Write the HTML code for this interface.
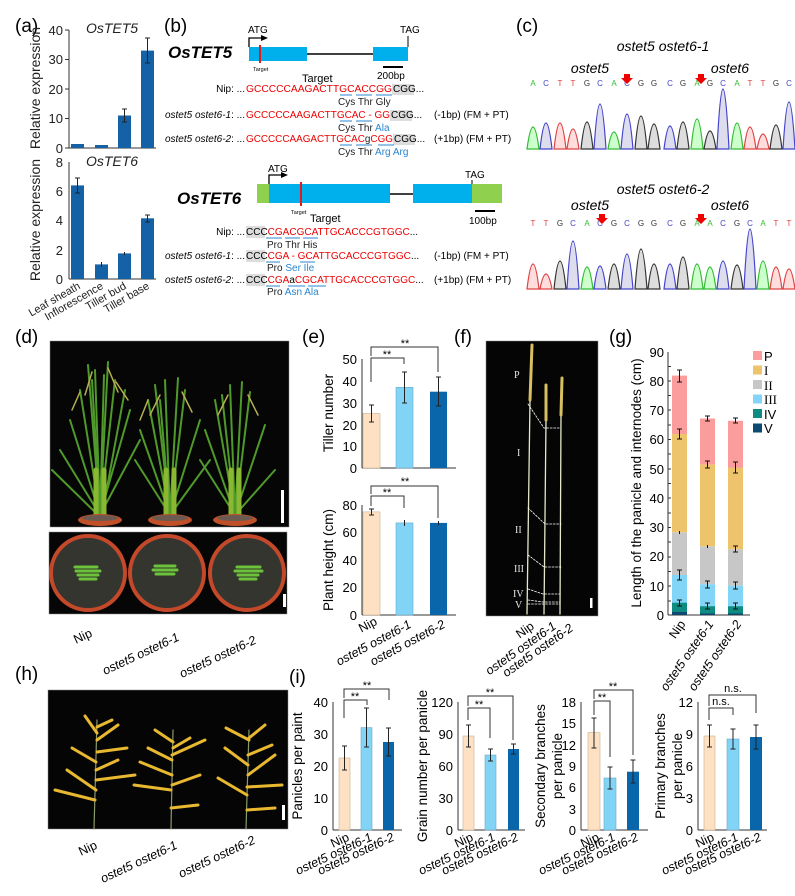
<!DOCTYPE html>
<html><head><meta charset="utf-8"><style>
html,body{margin:0;padding:0;background:#fff}
svg{display:block;font-family:"Liberation Sans",Arial,sans-serif}
.it{font-style:italic}
</style></head><body>
<svg width="795" height="896" viewBox="0 0 795 896" xmlns="http://www.w3.org/2000/svg">
<!-- ================= (a) ================= -->
<text x="15" y="32" font-size="19">(a)</text>
<g font-size="12" fill="#222">
<text x="112" y="33" text-anchor="middle" class="it" font-size="14">OsTET5</text>
<line x1="69" y1="30" x2="69" y2="148" stroke="#333"/>
<line x1="69" y1="148" x2="156" y2="148" stroke="#333"/>
<g stroke="#333"><line x1="65" y1="30" x2="69" y2="30"/><line x1="65" y1="59.5" x2="69" y2="59.5"/><line x1="65" y1="89" x2="69" y2="89"/><line x1="65" y1="118.5" x2="69" y2="118.5"/><line x1="65" y1="148" x2="69" y2="148"/></g>
<g text-anchor="end" font-size="13"><text x="63" y="35">40</text><text x="63" y="64">30</text><text x="63" y="94">20</text><text x="63" y="123">10</text><text x="63" y="153">0</text></g>
<g fill="#1461a6"><rect x="71" y="144" width="13" height="4"/><rect x="95" y="145" width="13" height="3"/><rect x="118" y="115.5" width="13" height="32.5"/><rect x="141" y="50.6" width="13" height="97.4"/></g>
<g stroke="#222"><line x1="124.5" y1="109" x2="124.5" y2="122"/><line x1="122" y1="109" x2="127" y2="109"/><line x1="122" y1="122" x2="127" y2="122"/><line x1="147.5" y1="38" x2="147.5" y2="63"/><line x1="145" y1="38" x2="150" y2="38"/><line x1="145" y1="63" x2="150" y2="63"/></g>
<text x="112" y="166" text-anchor="middle" class="it" font-size="14">OsTET6</text>
<line x1="69" y1="162" x2="69" y2="279" stroke="#333"/>
<line x1="69" y1="279" x2="156" y2="279" stroke="#333"/>
<g text-anchor="end" font-size="13"><text x="63" y="167">8</text><text x="63" y="196">6</text><text x="63" y="225">4</text><text x="63" y="255">2</text><text x="63" y="284">0</text></g>
<g fill="#1461a6"><rect x="71" y="185.4" width="13" height="93.6"/><rect x="95" y="264.4" width="13" height="14.6"/><rect x="118" y="253.4" width="13" height="25.6"/><rect x="141" y="218.3" width="13" height="60.7"/></g>
<g stroke="#222"><line x1="77.5" y1="178" x2="77.5" y2="193"/><line x1="75" y1="178" x2="80" y2="178"/><line x1="75" y1="193" x2="80" y2="193"/><line x1="101.5" y1="262" x2="101.5" y2="267"/><line x1="124.5" y1="252" x2="124.5" y2="255"/><line x1="147.5" y1="215" x2="147.5" y2="222"/><line x1="145" y1="215" x2="150" y2="215"/><line x1="145" y1="222" x2="150" y2="222"/></g>
<text transform="translate(40,220) rotate(-90)" text-anchor="middle" font-size="14">Relative expression</text>
<text transform="translate(40,88) rotate(-90)" text-anchor="middle" font-size="14">Relative expression</text>
<g font-size="11" text-anchor="end">
<text transform="translate(81,288) rotate(-30)">Leaf sheath</text>
<text transform="translate(104,288) rotate(-30)">Inflorescence</text>
<text transform="translate(127,288) rotate(-30)">Tiller bud</text>
<text transform="translate(150,288) rotate(-30)">Tiller base</text>
</g>
</g>
<!-- ================= (b) ================= -->
<text x="164" y="32" font-size="19">(b)</text>
<text x="168" y="58" font-size="17" font-weight="bold" class="it">OsTET5</text>
<text x="248" y="33" font-size="10">ATG</text>
<path d="M249 47 V38 H262" stroke="#000" stroke-width="1.3" fill="none"/><path d="M261 35 L268 38 L261 41Z"/>
<rect x="249" y="47" width="58" height="14" fill="#00b0ec"/>
<line x1="307" y1="54" x2="373" y2="54" stroke="#000" stroke-width="1.5"/>
<rect x="373" y="47" width="35" height="14" fill="#00b0ec"/>
<line x1="260" y1="45" x2="260" y2="63" stroke="#e41b1b" stroke-width="2"/>
<text x="253" y="71" font-size="5.5">Target</text>
<text x="400" y="33" font-size="10">TAG</text><line x1="408" y1="36" x2="408" y2="47" stroke="#000"/>
<line x1="383" y1="67" x2="403" y2="67" stroke="#000" stroke-width="2"/>
<text x="377" y="79" font-size="10">200bp</text>
<text x="302" y="82" font-size="11">Target</text>
<g font-size="10">
<text x="245" y="92" text-anchor="end">Nip: ...</text>
<rect x="392" y="84" width="22" height="11" fill="#ddd"/>
<text x="246" y="92" fill="#e00" textLength="146" lengthAdjust="spacingAndGlyphs">GCCCCCAAGACTTGCACCGG</text><text x="393" y="92">CGG...</text>
<text x="338" y="105" fill="#222">Cys  Thr  Gly</text>
<text x="245" y="118" text-anchor="end"><tspan class="it">ostet5 ostet6-1</tspan>: ...</text>
<rect x="390" y="110" width="22" height="11" fill="#ddd"/>
<text x="246" y="118" fill="#e00" textLength="144" lengthAdjust="spacingAndGlyphs">GCCCCCAAGACTTGCAC - GG</text><text x="391" y="118">CGG...</text>
<text x="434" y="118">(-1bp) (FM + PT)</text>
<text x="338" y="131" fill="#222">Cys   Thr  <tspan fill="#2a86d0">Ala</tspan></text>
<text x="245" y="142" text-anchor="end"><tspan class="it">ostet5 ostet6-2</tspan>: ...</text>
<rect x="393" y="134" width="22" height="11" fill="#ddd"/>
<text x="246" y="142" fill="#e00" textLength="147" lengthAdjust="spacingAndGlyphs">GCCCCCAAGACTTGCAC<tspan fill="#222">g</tspan>CGG</text><text x="394" y="142">CGG...</text>
<text x="434" y="142">(+1bp) (FM + PT)</text>
<text x="338" y="155" fill="#222">Cys  Thr  <tspan fill="#2a86d0">Arg  Arg</tspan></text>
</g>
<g stroke="#2a86d0" stroke-width="1"><line x1="340" y1="95" x2="352" y2="95"/><line x1="356" y1="95" x2="372" y2="95"/><line x1="376" y1="95" x2="392" y2="95"/><line x1="340" y1="121" x2="352" y2="121"/><line x1="356" y1="121" x2="372" y2="121"/><line x1="340" y1="145" x2="352" y2="145"/><line x1="356" y1="145" x2="372" y2="145"/><line x1="378" y1="145" x2="394" y2="145"/></g>
<text x="177" y="204" font-size="17" font-weight="bold" class="it">OsTET6</text>
<text x="268" y="172" font-size="10">ATG</text>
<path d="M269 184 V175 H282" stroke="#000" stroke-width="1.3" fill="none"/><path d="M281 172 L288 175 L281 178Z"/>
<rect x="257" y="184" width="12" height="19" fill="#8fd14f"/>
<rect x="269" y="184" width="121" height="19" fill="#00b0ec"/>
<line x1="390" y1="194" x2="413" y2="194" stroke="#000" stroke-width="1.5"/>
<rect x="413" y="184" width="59" height="19" fill="#00b0ec"/>
<rect x="472" y="184" width="30" height="19" fill="#8fd14f"/>
<line x1="301" y1="182" x2="301" y2="206" stroke="#e41b1b" stroke-width="2"/>
<text x="291" y="214" font-size="5.5">Target</text>
<text x="465" y="178" font-size="10">TAG</text><line x1="472" y1="180" x2="472" y2="184" stroke="#000"/>
<line x1="475" y1="211" x2="495" y2="211" stroke="#000" stroke-width="2"/>
<text x="469" y="224" font-size="10">100bp</text>
<text x="310" y="222" font-size="11">Target</text>
<g font-size="10">
<text x="245" y="235" text-anchor="end">Nip: ...</text>
<rect x="246" y="226" width="19" height="12" fill="#ddd"/>
<text x="246" y="235">CCC<tspan fill="#e00">CGACGCATTGCACCCGTGGC</tspan>...</text>
<text x="267" y="248" fill="#222">Pro  Thr  His</text>
<text x="245" y="259" text-anchor="end"><tspan class="it">ostet5 ostet6-1</tspan>: ...</text>
<rect x="246" y="250" width="19" height="12" fill="#ddd"/>
<text x="246" y="259">CCC<tspan fill="#e00">CGA - GCATTGCACCCGTGGC</tspan>...</text>
<text x="434" y="259">(-1bp) (FM + PT)</text>
<text x="267" y="271" fill="#222">Pro  <tspan fill="#2a86d0">Ser     Ile</tspan></text>
<text x="245" y="283" text-anchor="end"><tspan class="it">ostet5 ostet6-2</tspan>: ...</text>
<rect x="246" y="274" width="19" height="12" fill="#ddd"/>
<text x="246" y="283">CCC<tspan fill="#e00">CGA</tspan>a<tspan fill="#e00">CGCATTGCACCCGTGGC</tspan>...</text>
<text x="434" y="283">(+1bp) (FM + PT)</text>
<text x="267" y="295" fill="#222">Pro  <tspan fill="#2a86d0">Asn  Ala</tspan></text>
</g>
<g stroke="#2a86d0"><line x1="266" y1="238" x2="282" y2="238"/><line x1="285" y1="238" x2="300" y2="238"/><line x1="303" y1="238" x2="318" y2="238"/><line x1="266" y1="262" x2="280" y2="262"/><line x1="300" y1="262" x2="315" y2="262"/><line x1="266" y1="286" x2="280" y2="286"/><line x1="288" y1="286" x2="305" y2="286"/><line x1="308" y1="286" x2="326" y2="286"/></g>
<!-- ================= (c) ================= -->
<text x="516" y="32" font-size="19">(c)</text>
<g class="it" font-size="14" text-anchor="middle">
<text x="663" y="51">ostet5 ostet6-1</text><text x="590" y="73">ostet5</text><text x="730" y="73">ostet6</text>
<text x="663" y="194">ostet5 ostet6-2</text><text x="590" y="210">ostet5</text><text x="730" y="210">ostet6</text>
</g>
<g font-size="8" text-anchor="middle">
<text x="533" y="86" fill="#3b3">A</text><text x="546" y="86" fill="#44c">C</text><text x="560" y="86" fill="#d44">T</text><text x="573" y="86" fill="#d44">T</text><text x="587" y="86" fill="#333">G</text><text x="600" y="86" fill="#44c">C</text><text x="614" y="86" fill="#3b3">A</text><text x="627" y="86" fill="#44c">C</text><text x="641" y="86" fill="#333">G</text><text x="654" y="86" fill="#333">G</text>
<text x="670" y="86" fill="#44c">C</text><text x="683" y="86" fill="#333">G</text><text x="697" y="86" fill="#3b3">A</text><text x="710" y="86" fill="#333">G</text><text x="723" y="86" fill="#44c">C</text><text x="737" y="86" fill="#3b3">A</text><text x="750" y="86" fill="#d44">T</text><text x="763" y="86" fill="#d44">T</text><text x="776" y="86" fill="#333">G</text><text x="789" y="86" fill="#44c">C</text>
<text x="533" y="226" fill="#d44">T</text><text x="546" y="226" fill="#d44">T</text><text x="560" y="226" fill="#333">G</text><text x="573" y="226" fill="#44c">C</text><text x="587" y="226" fill="#3b3">A</text><text x="600" y="226" fill="#44c">C</text><text x="614" y="226" fill="#333">G</text><text x="627" y="226" fill="#44c">C</text><text x="641" y="226" fill="#333">G</text><text x="654" y="226" fill="#333">G</text>
<text x="670" y="226" fill="#44c">C</text><text x="683" y="226" fill="#333">G</text><text x="697" y="226" fill="#3b3">A</text><text x="710" y="226" fill="#3b3">A</text><text x="723" y="226" fill="#44c">C</text><text x="737" y="226" fill="#333">G</text><text x="750" y="226" fill="#44c">C</text><text x="763" y="226" fill="#3b3">A</text><text x="776" y="226" fill="#d44">T</text><text x="789" y="226" fill="#d44">T</text>
</g>
<g stroke-width="1.2">
<path d="M527 149 Q533 105 539 149Z" fill="#cfc" stroke="#3b3"/><path d="M540 149 Q546 97 552 149Z" fill="#dde" stroke="#44c"/><path d="M554 149 Q560 97 566 149Z" fill="#fdd" stroke="#d44"/><path d="M567 149 Q573 109 579 149Z" fill="#fdd" stroke="#d44"/><path d="M581 149 Q587 95 593 149Z" fill="#ddd" stroke="#333"/><path d="M594 149 Q600 59 606 149Z" fill="#dde" stroke="#44c"/><path d="M608 149 Q614 115 620 149Z" fill="#cfc" stroke="#3b3"/><path d="M621 149 Q627 79 633 149Z" fill="#dde" stroke="#44c"/><path d="M635 149 Q641 83 647 149Z" fill="#ddd" stroke="#333"/><path d="M648 149 Q654 99 660 149Z" fill="#ddd" stroke="#333"/>
<path d="M664 149 Q670 103 676 149Z" fill="#dde" stroke="#44c"/><path d="M677 149 Q683 95 689 149Z" fill="#ddd" stroke="#333"/><path d="M691 149 Q697 89 703 149Z" fill="#cfc" stroke="#3b3"/><path d="M704 149 Q710 113 716 149Z" fill="#ddd" stroke="#333"/><path d="M717 149 Q723 29 729 149Z" fill="#dde" stroke="#44c"/><path d="M731 149 Q737 97 743 149Z" fill="#cfc" stroke="#3b3"/><path d="M744 149 Q750 105 756 149Z" fill="#fdd" stroke="#d44"/><path d="M757 149 Q763 119 769 149Z" fill="#fdd" stroke="#d44"/><path d="M770 149 Q776 101 782 149Z" fill="#ddd" stroke="#333"/><path d="M783 149 Q789 55 795 149Z" fill="#dde" stroke="#44c"/>
<path d="M527 289 Q533 239 539 289Z" fill="#fdd" stroke="#d44"/><path d="M540 289 Q546 259 552 289Z" fill="#fdd" stroke="#d44"/><path d="M554 289 Q560 233 566 289Z" fill="#ddd" stroke="#333"/><path d="M567 289 Q573 193 579 289Z" fill="#dde" stroke="#44c"/><path d="M581 289 Q587 245 593 289Z" fill="#cfc" stroke="#3b3"/><path d="M594 289 Q600 243 606 289Z" fill="#dde" stroke="#44c"/><path d="M608 289 Q614 239 620 289Z" fill="#ddd" stroke="#333"/><path d="M621 289 Q627 219 633 289Z" fill="#dde" stroke="#44c"/><path d="M635 289 Q641 209 647 289Z" fill="#ddd" stroke="#333"/><path d="M648 289 Q654 239 660 289Z" fill="#ddd" stroke="#333"/>
<path d="M664 289 Q670 239 676 289Z" fill="#dde" stroke="#44c"/><path d="M677 289 Q683 225 689 289Z" fill="#ddd" stroke="#333"/><path d="M691 289 Q697 239 703 289Z" fill="#cfc" stroke="#3b3"/><path d="M704 289 Q710 245 716 289Z" fill="#cfc" stroke="#3b3"/><path d="M717 289 Q723 233 729 289Z" fill="#dde" stroke="#44c"/><path d="M731 289 Q737 241 743 289Z" fill="#ddd" stroke="#333"/><path d="M744 289 Q750 169 756 289Z" fill="#dde" stroke="#44c"/><path d="M757 289 Q763 233 769 289Z" fill="#cfc" stroke="#3b3"/><path d="M770 289 Q776 245 782 289Z" fill="#fdd" stroke="#d44"/><path d="M783 289 Q789 249 795 289Z" fill="#fdd" stroke="#d44"/>
</g>
<g fill="#e00"><path d="M624 74 h6 v4 h3 l-6 6 l-6 -6 h3z"/><path d="M698 74 h6 v4 h3 l-6 6 l-6 -6 h3z"/><path d="M599 214 h6 v4 h3 l-6 6 l-6 -6 h3z"/><path d="M698 214 h6 v4 h3 l-6 6 l-6 -6 h3z"/></g>
<!-- ================= (d) ================= -->
<text x="15" y="343" font-size="19">(d)</text>
<rect x="50" y="341" width="239" height="186" fill="#060606" stroke="#888" stroke-width="0.5"/>
<g stroke-width="2" fill="none" stroke-linecap="round">
<g stroke="#4f9a2a"><path d="M100 515 L95 370"/><path d="M100 515 L80 390"/><path d="M100 515 L115 380"/><path d="M100 515 L70 420"/><path d="M100 515 L130 410"/><path d="M100 515 L60 450"/><path d="M100 515 L140 440"/><path d="M100 515 L88 365"/><path d="M100 515 L108 362"/><path d="M98 515 L52 470"/><path d="M102 515 L125 390"/><path d="M100 515 L92 380"/><path d="M100 515 L104 375"/></g>
<g stroke="#b8b050" stroke-width="1.5"><path d="M92 372 L85 395"/><path d="M108 368 L118 392"/><path d="M80 392 L72 410"/><path d="M116 382 L128 400"/></g>
<g stroke="#4f9a2a"><path d="M170 515 L165 380"/><path d="M170 515 L148 400"/><path d="M170 515 L185 390"/><path d="M170 515 L140 430"/><path d="M170 515 L200 420"/><path d="M170 515 L135 460"/><path d="M170 515 L210 460"/><path d="M170 515 L178 378"/><path d="M170 515 L155 385"/><path d="M170 515 L160 400"/></g>
<g stroke="#b8b050" stroke-width="1.5"><path d="M160 395 L150 415"/><path d="M182 392 L192 412"/><path d="M148 400 L140 420"/></g>
<g stroke="#4f9a2a"><path d="M235 515 L230 385"/><path d="M235 515 L215 400"/><path d="M235 515 L250 392"/><path d="M235 515 L205 430"/><path d="M235 515 L265 425"/><path d="M235 515 L275 470"/><path d="M235 515 L200 460"/><path d="M235 515 L242 382"/><path d="M235 515 L222 395"/></g>
<g stroke="#b8b050" stroke-width="1.5"><path d="M228 395 L218 415"/><path d="M248 395 L258 415"/></g>
<g stroke="#8ab830" stroke-width="5"><path d="M96 515 L96 470"/><path d="M104 515 L104 470"/><path d="M166 515 L166 470"/><path d="M174 515 L174 470"/><path d="M231 515 L231 470"/><path d="M239 515 L239 470"/></g>
</g>
<g fill="#c0502a"><ellipse cx="100" cy="520" rx="22" ry="6"/><ellipse cx="170" cy="520" rx="22" ry="6"/><ellipse cx="235" cy="520" rx="22" ry="6"/></g>
<g fill="#6a5a50"><ellipse cx="100" cy="518" rx="18" ry="3"/><ellipse cx="170" cy="518" rx="18" ry="3"/><ellipse cx="235" cy="518" rx="18" ry="3"/></g>
<rect x="281" y="490" width="3" height="33" fill="#fff"/>
<rect x="49" y="532" width="238" height="82" fill="#060606" stroke="#888" stroke-width="0.5"/>
<g stroke="#c4492a" stroke-width="4" fill="#35352f"><circle cx="88" cy="573" r="37"/><circle cx="167" cy="573" r="37"/><circle cx="247" cy="573" r="37"/></g>
<g stroke="#6cc23a" stroke-width="3" stroke-linecap="round"><path d="M75 567 H97 M76 571 H100 M78 575 H98 M80 579 H96"/><path d="M155 566 L175 566 M153 570 L177 570 M156 574 L174 574"/><path d="M237 567 H260 M235 571 H262 M238 575 H258 M240 579 H256"/></g>
<rect x="283" y="594" width="3" height="13" fill="#fff"/>
<g font-size="12.5" class="it" text-anchor="end">
<text transform="translate(93,636) rotate(-25)" font-style="normal">Nip</text>
<text transform="translate(180,640) rotate(-25)">ostet5 ostet6-1</text>
<text transform="translate(257,643) rotate(-25)">ostet5 ostet6-2</text>
</g>
<!-- ================= (e) ================= -->
<text x="302" y="343" font-size="19">(e)</text>
<g font-size="13">
<line x1="362" y1="359" x2="362" y2="468" stroke="#333"/><line x1="362" y1="468" x2="456" y2="468" stroke="#333"/>
<g text-anchor="end"><text x="357" y="364">50</text><text x="357" y="386">40</text><text x="357" y="408">30</text><text x="357" y="430">20</text><text x="357" y="451">10</text><text x="357" y="473">0</text></g>
<rect x="363" y="413.5" width="17" height="54.5" fill="#fde1c2" stroke="#c8b090" stroke-width="0.6"/>
<rect x="396" y="387.3" width="17" height="80.7" fill="#82d4f7" stroke="#6aa8c8" stroke-width="0.6"/>
<rect x="430" y="391.7" width="17" height="76.3" fill="#0a66aa"/>
<g stroke="#222"><path d="M371.5 405 V422 M369 405 H374 M369 422 H374"/><path d="M404.5 372 V403 M402 372 H407 M402 403 H407"/><path d="M438.5 377 V406 M436 377 H441 M436 406 H441"/></g>
<path d="M371 382 V358 H404 V364" stroke="#333" fill="none"/><path d="M371 356 V347 H438 V372" stroke="#333" fill="none"/>
<text x="387" y="358" font-size="11" text-anchor="middle">**</text><text x="405" y="347" font-size="11" text-anchor="middle">**</text>
<text transform="translate(333,413) rotate(-90)" text-anchor="middle" font-size="13.5">Tiller number</text>
<line x1="362" y1="505" x2="362" y2="615" stroke="#333"/><line x1="362" y1="615" x2="456" y2="615" stroke="#333"/>
<g text-anchor="end"><text x="357" y="510">80</text><text x="357" y="537">60</text><text x="357" y="565">40</text><text x="357" y="592">20</text><text x="357" y="620">0</text></g>
<rect x="363" y="511.9" width="17" height="103.1" fill="#fde1c2" stroke="#c8b090" stroke-width="0.6"/>
<rect x="396" y="522.9" width="17" height="92.1" fill="#82d4f7" stroke="#6aa8c8" stroke-width="0.6"/>
<rect x="430" y="522.9" width="17" height="92.1" fill="#0a66aa"/>
<g stroke="#222"><path d="M371.5 509 V515 M369 509 H374 M369 515 H374"/><path d="M404.5 520 V526"/><path d="M438.5 521 V525"/></g>
<path d="M371 506 V496 H404 V508" stroke="#333" fill="none"/><path d="M371 494 V486 H438 V518" stroke="#333" fill="none"/>
<text x="387" y="496" font-size="11" text-anchor="middle">**</text><text x="405" y="485" font-size="11" text-anchor="middle">**</text>
<text transform="translate(333,560) rotate(-90)" text-anchor="middle" font-size="13.5">Plant height (cm)</text>
</g>
<g font-size="12.5" class="it" text-anchor="end">
<text transform="translate(378,624) rotate(-28)" font-style="normal">Nip</text>
<text transform="translate(412,627) rotate(-28)">ostet5 ostet6-1</text>
<text transform="translate(446,627) rotate(-28)">ostet5 ostet6-2</text>
</g>
<!-- ================= (f) ================= -->
<text x="454" y="343" font-size="19">(f)</text>
<rect x="486" y="341" width="112" height="275" fill="#050505" stroke="#888" stroke-width="0.5"/>
<g fill="none" stroke-linecap="round">
<g stroke="#e8e8c8" stroke-width="1.3"><path d="M527 614 L530 400"/><path d="M544 614 L546 420"/><path d="M560 614 L561 415"/></g>
<g stroke="#d8c060" stroke-width="3"><path d="M530 400 L532 345"/><path d="M546 420 L546 385"/><path d="M561 415 L562 378"/></g>
<g stroke="#fff" stroke-width="0.8" stroke-dasharray="2 1.5"><path d="M528 404 L544 428 H560"/><path d="M528 508 L545 524 H561"/><path d="M528 555 L544 567 H561"/><path d="M528 589 L543 594 H560"/><path d="M528 600 L543 602 H560"/><path d="M528 604 H560"/></g>
</g>
<g fill="#e6e6e6" font-family="Liberation Serif,serif" font-size="10"><text x="514" y="378">P</text><text x="517" y="456">I</text><text x="515" y="533">II</text><text x="514" y="572">III</text><text x="513" y="597">IV</text><text x="515" y="608">V</text></g>
<rect x="590" y="598" width="2.5" height="10" fill="#fff"/>
<g font-size="12.5" class="it" text-anchor="end">
<text transform="translate(535,628) rotate(-35)" font-style="normal">Nip</text>
<text transform="translate(557,628) rotate(-35)">ostet5 ostet6-1</text>
<text transform="translate(574,630) rotate(-35)">ostet5 ostet6-2</text>
</g>
<!-- ================= (g) ================= -->
<text x="609" y="343" font-size="19">(g)</text>
<g font-size="13">
<line x1="668" y1="352" x2="668" y2="615" stroke="#333"/><line x1="668" y1="615" x2="750" y2="615" stroke="#333"/>
<g text-anchor="end"><text x="664" y="357">90</text><text x="664" y="386">80</text><text x="664" y="415">70</text><text x="664" y="444">60</text><text x="664" y="474">50</text><text x="664" y="503">40</text><text x="664" y="532">30</text><text x="664" y="561">20</text><text x="664" y="591">10</text><text x="664" y="620">0</text></g>
<g stroke="#333"><path d="M668 366.5 h3 M668 381 h3 M668 395.5 h3 M668 410 h3 M668 425 h3 M668 439.5 h3 M668 454 h3 M668 469 h3 M668 483.5 h3 M668 498 h3 M668 513 h3 M668 527.5 h3 M668 542 h3 M668 557 h3 M668 571.5 h3 M668 586 h3 M668 601 h3"/></g>
<rect x="672" y="375.6" width="15" height="58.4" fill="#fb9d9d"/><rect x="672" y="434" width="15" height="98.3" fill="#edc46c"/><rect x="672" y="532.4" width="15" height="42.9" fill="#c7c7c7"/><rect x="672" y="575" width="15" height="28.1" fill="#83d5f7"/><rect x="672" y="602.7" width="15" height="9.4" fill="#0f8b82"/><rect x="672" y="612" width="15" height="3" fill="#0c4a72"/>
<rect x="700" y="418.5" width="15" height="46.1" fill="#fb9d9d"/><rect x="700" y="464.6" width="15" height="81.7" fill="#edc46c"/><rect x="700" y="546.4" width="15" height="37.9" fill="#c7c7c7"/><rect x="700" y="584.3" width="15" height="21.9" fill="#83d5f7"/><rect x="700" y="606.2" width="15" height="7.3" fill="#0f8b82"/><rect x="700" y="613.5" width="15" height="1.5" fill="#0c4a72"/>
<rect x="728" y="420.8" width="15" height="46.8" fill="#fb9d9d"/><rect x="728" y="467.5" width="15" height="81.8" fill="#edc46c"/><rect x="728" y="549.3" width="15" height="36.5" fill="#c7c7c7"/><rect x="728" y="585.8" width="15" height="20.4" fill="#83d5f7"/><rect x="728" y="606.2" width="15" height="7.3" fill="#0f8b82"/><rect x="728" y="613.5" width="15" height="1.5" fill="#0c4a72"/>
<g stroke="#111" stroke-width="1"><path d="M679.5 370 v12 M677 370 h5 M677 382 h5 M679.5 429 v10 M677 429 h5 M677 439 h5 M679.5 531 v3 M679.5 570 v10 M677 570 h5 M677 580 h5 M679.5 600 v6 M677 600 h5 M677 606 h5"/><path d="M707.5 416 v5 M705 416 h5 M705 421 h5 M707.5 461 v7 M705 461 h5 M705 468 h5 M707.5 545 v3 M707.5 581 v7 M705 581 h5 M705 588 h5 M707.5 603 v6 M705 603 h5 M705 609 h5"/><path d="M735.5 418 v5 M733 418 h5 M733 423 h5 M735.5 462 v11 M733 462 h5 M733 473 h5 M735.5 546 v6 M733 546 h5 M733 552 h5 M735.5 582 v7 M733 582 h5 M733 589 h5 M735.5 603 v6 M733 603 h5 M733 609 h5"/></g>
<text transform="translate(641,483) rotate(-90)" text-anchor="middle" font-size="13.5">Length of the panicle and internodes (cm)</text>
<g font-size="13"><rect x="753" y="351" width="9" height="9" fill="#fb9d9d"/><text x="764" y="361">P</text>
<rect x="753" y="365.5" width="9" height="9" fill="#edc46c"/><text x="764" y="375" font-family="Liberation Serif,serif">I</text>
<rect x="753" y="380" width="9" height="9" fill="#c7c7c7"/><text x="764" y="390" font-family="Liberation Serif,serif">II</text>
<rect x="753" y="394.5" width="9" height="9" fill="#83d5f7"/><text x="764" y="404" font-family="Liberation Serif,serif">III</text>
<rect x="753" y="409" width="9" height="9" fill="#0f8b82"/><text x="764" y="419">IV</text>
<rect x="753" y="423.5" width="9" height="9" fill="#0c4a72"/><text x="764" y="433">V</text></g>
</g>
<g font-size="12.5" class="it" text-anchor="end">
<text transform="translate(686,624) rotate(-55)" font-style="normal">Nip</text>
<text transform="translate(714,624) rotate(-55)">ostet5 ostet6-1</text>
<text transform="translate(742,624) rotate(-55)">ostet5 ostet6-2</text>
</g>
<!-- ================= (h) ================= -->
<text x="15" y="680" font-size="19">(h)</text>
<rect x="48" y="690" width="240" height="139" fill="#050505" stroke="#888" stroke-width="0.5"/>
<g fill="none" stroke-linecap="round">
<g stroke="#8a9a6a" stroke-width="1.2"><path d="M94 829 L97 720"/><path d="M171 829 L173 730"/><path d="M246 829 L249 730"/></g>
<g stroke="#e8b830" stroke-width="3"><path d="M95 800 L55 790"/><path d="M96 790 L67 770"/><path d="M96 780 L135 775"/><path d="M96 762 L72 748"/><path d="M97 752 L127 748"/><path d="M97 740 L118 725"/><path d="M97 733 L85 716"/><path d="M97 727 L112 720"/><path d="M96 770 L118 760"/>
<path d="M171 790 L134 785"/><path d="M171 808 L198 805"/><path d="M172 775 L140 762"/><path d="M172 785 L200 775"/><path d="M172 760 L148 748"/><path d="M172 755 L205 740"/><path d="M173 742 L155 730"/><path d="M173 748 L190 738"/>
<path d="M247 810 L275 808"/><path d="M247 795 L218 778"/><path d="M247 787 L282 785"/><path d="M248 775 L275 755"/><path d="M248 765 L225 748"/><path d="M248 755 L272 745"/><path d="M249 740 L226 728"/><path d="M249 738 L265 725"/></g>
</g>
<rect x="282" y="805" width="3" height="15" fill="#fff"/>
<g font-size="12.5" class="it" text-anchor="end">
<text transform="translate(98,848) rotate(-25)" font-style="normal">Nip</text>
<text transform="translate(178,848) rotate(-25)">ostet5 ostet6-1</text>
<text transform="translate(256,843) rotate(-25)">ostet5 ostet6-2</text>
</g>
<!-- ================= (i) ================= -->
<text x="289" y="683" font-size="19">(i)</text>
<g font-size="13">
<line x1="333" y1="702" x2="333" y2="830" stroke="#333"/><line x1="333" y1="830" x2="402" y2="830" stroke="#333"/>
<g text-anchor="end"><text x="328" y="707">40</text><text x="328" y="739">30</text><text x="328" y="771">20</text><text x="328" y="803">10</text><text x="328" y="835">0</text></g>
<rect x="339" y="758" width="11" height="72" fill="#fde1c2" stroke="#c8b090" stroke-width="0.6"/>
<rect x="361" y="727.6" width="11" height="102.4" fill="#82d4f7" stroke="#6aa8c8" stroke-width="0.6"/>
<rect x="383" y="742" width="11" height="88" fill="#0a66aa"/>
<g stroke="#222"><path d="M344.5 746 V770 M342 746 H347 M342 770 H347 M366.5 708 V747 M364 708 H369 M364 747 H369 M388.5 728 V756 M386 728 H391 M386 756 H391"/></g>
<path d="M344 718 V700 H367 V705" stroke="#333" fill="none"/><path d="M344 698 V689 H389 V700" stroke="#333" fill="none"/>
<text x="355" y="700" font-size="11" text-anchor="middle">**</text><text x="367" y="689" font-size="11" text-anchor="middle">**</text>
<text transform="translate(302,766) rotate(-90)" text-anchor="middle" font-size="13.5">Panicles per paint</text>
<line x1="458" y1="702" x2="458" y2="830" stroke="#333"/><line x1="458" y1="830" x2="525" y2="830" stroke="#333"/>
<g text-anchor="end"><text x="453" y="707">120</text><text x="453" y="739">90</text><text x="453" y="771">60</text><text x="453" y="803">30</text><text x="453" y="835">0</text></g>
<rect x="463" y="736" width="11" height="94" fill="#fde1c2" stroke="#c8b090" stroke-width="0.6"/>
<rect x="485" y="755" width="11" height="75" fill="#82d4f7" stroke="#6aa8c8" stroke-width="0.6"/>
<rect x="508" y="749" width="11" height="81" fill="#0a66aa"/>
<g stroke="#222"><path d="M468.5 725 V747 M466 725 H471 M466 747 H471 M490.5 749 V761 M488 749 H493 M488 761 H493 M513.5 744 V754 M511 744 H516 M511 754 H516"/></g>
<path d="M468 720 V708 H490 V738" stroke="#333" fill="none"/><path d="M468 706 V696 H513 V740" stroke="#333" fill="none"/>
<text x="479" y="708" font-size="11" text-anchor="middle">**</text><text x="490" y="696" font-size="11" text-anchor="middle">**</text>
<text transform="translate(427,766) rotate(-90)" text-anchor="middle" font-size="13.5">Grain number per panicle</text>
<line x1="581" y1="702" x2="581" y2="830" stroke="#333"/><line x1="581" y1="830" x2="648" y2="830" stroke="#333"/>
<g text-anchor="end"><text x="576" y="707">18</text><text x="576" y="728">15</text><text x="576" y="750">12</text><text x="576" y="771">9</text><text x="576" y="792">6</text><text x="576" y="814">3</text><text x="576" y="835">0</text></g>
<rect x="588" y="732.6" width="12" height="97.4" fill="#fde1c2" stroke="#c8b090" stroke-width="0.6"/>
<rect x="604" y="778" width="12" height="52" fill="#82d4f7" stroke="#6aa8c8" stroke-width="0.6"/>
<rect x="627" y="771.7" width="12" height="58.3" fill="#0a66aa"/>
<g stroke="#222"><path d="M594 718 V748 M591.5 718 H596.5 M591.5 748 H596.5 M610 767 V789 M607.5 767 H612.5 M607.5 789 H612.5 M633 760 V783 M630.5 760 H635.5 M630.5 783 H635.5"/></g>
<path d="M594 715 V701 H610 V757" stroke="#333" fill="none"/><path d="M594 699 V690 H633 V755" stroke="#333" fill="none"/>
<text x="602" y="701" font-size="11" text-anchor="middle">**</text><text x="613" y="690" font-size="11" text-anchor="middle">**</text>
<text transform="translate(545,766) rotate(-90)" text-anchor="middle" font-size="13.5">Secondary branches</text>
<text transform="translate(562,766) rotate(-90)" text-anchor="middle" font-size="13.5">per panicle</text>
<line x1="698" y1="702" x2="698" y2="830" stroke="#333"/><line x1="698" y1="830" x2="767" y2="830" stroke="#333"/>
<g text-anchor="end"><text x="693" y="707">12</text><text x="693" y="739">9</text><text x="693" y="771">6</text><text x="693" y="803">3</text><text x="693" y="835">0</text></g>
<rect x="704" y="736" width="11" height="94" fill="#fde1c2" stroke="#c8b090" stroke-width="0.6"/>
<rect x="727" y="739" width="12" height="91" fill="#82d4f7" stroke="#6aa8c8" stroke-width="0.6"/>
<rect x="750" y="737" width="12" height="93" fill="#0a66aa"/>
<g stroke="#222"><path d="M709.5 725 V747 M707 725 H712 M707 747 H712 M733 729 V749 M730.5 729 H735.5 M730.5 749 H735.5 M756 725 V749 M753.5 725 H758.5 M753.5 749 H758.5"/></g>
<path d="M709 720 V708 H733 V715" stroke="#333" fill="none"/><path d="M709 706 V695 H756 V713" stroke="#333" fill="none"/>
<text x="721" y="705" font-size="11" text-anchor="middle">n.s.</text><text x="733" y="692" font-size="11" text-anchor="middle">n.s.</text>
<text transform="translate(665,766) rotate(-90)" text-anchor="middle" font-size="13.5">Primary branches</text>
<text transform="translate(682,766) rotate(-90)" text-anchor="middle" font-size="13.5">per panicle</text>
</g>
<g font-size="12.5" class="it" text-anchor="end">
<text transform="translate(350,840) rotate(-25)" font-style="normal">Nip</text>
<text transform="translate(373,840) rotate(-25)">ostet5 ostet6-1</text>
<text transform="translate(395,840) rotate(-25)">ostet5 ostet6-2</text>
<text transform="translate(474,840) rotate(-25)" font-style="normal">Nip</text>
<text transform="translate(496,840) rotate(-25)">ostet5 ostet6-1</text>
<text transform="translate(519,840) rotate(-25)">ostet5 ostet6-2</text>
<text transform="translate(600,840) rotate(-25)" font-style="normal">Nip</text>
<text transform="translate(616,840) rotate(-25)">ostet5 ostet6-1</text>
<text transform="translate(639,840) rotate(-25)">ostet5 ostet6-2</text>
<text transform="translate(715,840) rotate(-25)" font-style="normal">Nip</text>
<text transform="translate(739,840) rotate(-25)">ostet5 ostet6-1</text>
<text transform="translate(762,840) rotate(-25)">ostet5 ostet6-2</text>
</g>
</svg>
</body></html>
